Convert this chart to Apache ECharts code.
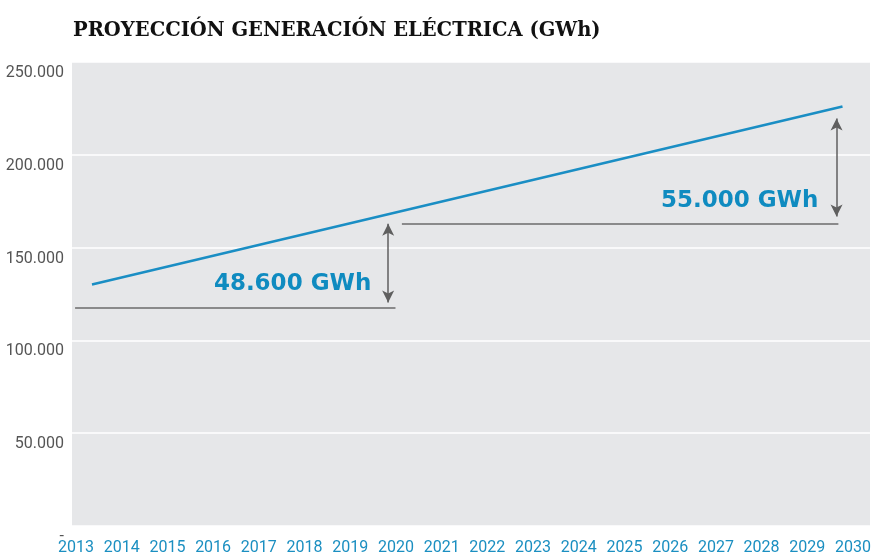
<!DOCTYPE html>
<html>
<head>
<meta charset="utf-8">
<script src="https://cdn.jsdelivr.net/npm/echarts@6/dist/echarts.min.js"></script>
<style>
  html, body { margin: 0; padding: 0; background: #fff; }
  #main { width: 874px; height: 556px; }
</style>
</head>
<body>
<div id="main"></div>
<script>
// años del eje X
var years = [2013, 2014, 2015, 2016, 2017, 2018, 2019, 2020, 2021, 2022,
             2023, 2024, 2025, 2026, 2027, 2028, 2029, 2030];
// proyeccion (extremos de la recta)
var projection = [[2013.35, 130100], [2029.77, 226000]];
// lineas de referencia horizontales [x0, x1, y]
var refLines = [[2012.98, 2019.99, 117700], [2020.13, 2029.68, 163100]];
// flechas [x, y0, y1]
var arrows = [[2019.83, 120400, 162900], [2029.64, 166700, 219500]];
// etiquetas [x, y, texto]
var notes = [[2019.46, 130600, '48.600 GWh'], [2029.24, 174900, '55.000 GWh']];

var myChart = echarts.init(document.getElementById('main'));

var markLines = [];
refLines.forEach(function (r) {
  markLines.push([
    { coord: [r[0], r[2]], symbol: 'none', lineStyle: { color: '#6b6b6b', width: 1.5, type: 'solid' } },
    { coord: [r[1], r[2]], symbol: 'none' }
  ]);
});
arrows.forEach(function (a) {
  markLines.push([
    { coord: [a[0], a[1]], symbol: 'arrow', symbolSize: [9, 12], lineStyle: { color: '#5f5f5f', width: 1.5, type: 'solid' } },
    { coord: [a[0], a[2]], symbol: 'arrow', symbolSize: [9, 12] }
  ]);
});

var option = {
  animation: false,
  title: {
    text: 'PROYECCIÓN GENERACIÓN ELÉCTRICA (GWh)',
    left: 68,
    top: 16,
    textStyle: {
      fontFamily: 'DejaVu Serif',
      fontWeight: 'bold',
      fontSize: 19.5,
      color: '#111'
    }
  },
  grid: {
    left: 72,
    right: 2,
    top: 62,
    bottom: 30,
    show: true,
    backgroundColor: '#e6e7e9',
    borderWidth: 0
  },
  xAxis: {
    type: 'value',
    min: 2012.9127,
    max: 2030.371,
    axisLine: { show: false },
    axisTick: { show: false },
    splitLine: { show: false },
    axisLabel: {
      customValues: years,
      margin: 14,
      color: '#1b8fc1',
      fontFamily: 'Roboto',
      fontSize: 16,
      formatter: function (v) { return String(Math.round(v)); }
    }
  },
  yAxis: {
    type: 'value',
    min: 0,
    max: 250000,
    interval: 50000,
    axisLine: { show: false },
    axisTick: { show: false },
    splitLine: { lineStyle: { color: '#ffffff', width: 1.5 } },
    axisLabel: {
      margin: 8,
      color: '#555',
      fontFamily: 'Roboto',
      fontSize: 16,
      lineHeight: 22,
      verticalAlign: 'top',
      formatter: function (v) {
        if (v === 0) return '-';
        return String(v).replace(/\B(?=(\d{3})+(?!\d))/g, '.');
      }
    }
  },
  series: [
    {
      type: 'line',
      data: projection,
      symbol: 'none',
      silent: true,
      lineStyle: { color: '#1a8ec4', width: 2.5 },
      markLine: {
        silent: true,
        symbol: 'none',
        label: { show: false },
        data: markLines
      },
      markPoint: {
        silent: true,
        symbol: 'circle',
        symbolSize: 0,
        label: {
          show: true,
          position: 'left',
          distance: 0,
          color: '#0f8bc0',
          fontFamily: 'DejaVu Sans',
          fontWeight: 'bold',
          fontSize: 23,
          formatter: function (p) { return p.name; }
        },
        data: notes.map(function (n) {
          return { coord: [n[0], n[1]], name: n[2] };
        })
      }
    }
  ]
};

myChart.setOption(option);
</script>
</body>
</html>
